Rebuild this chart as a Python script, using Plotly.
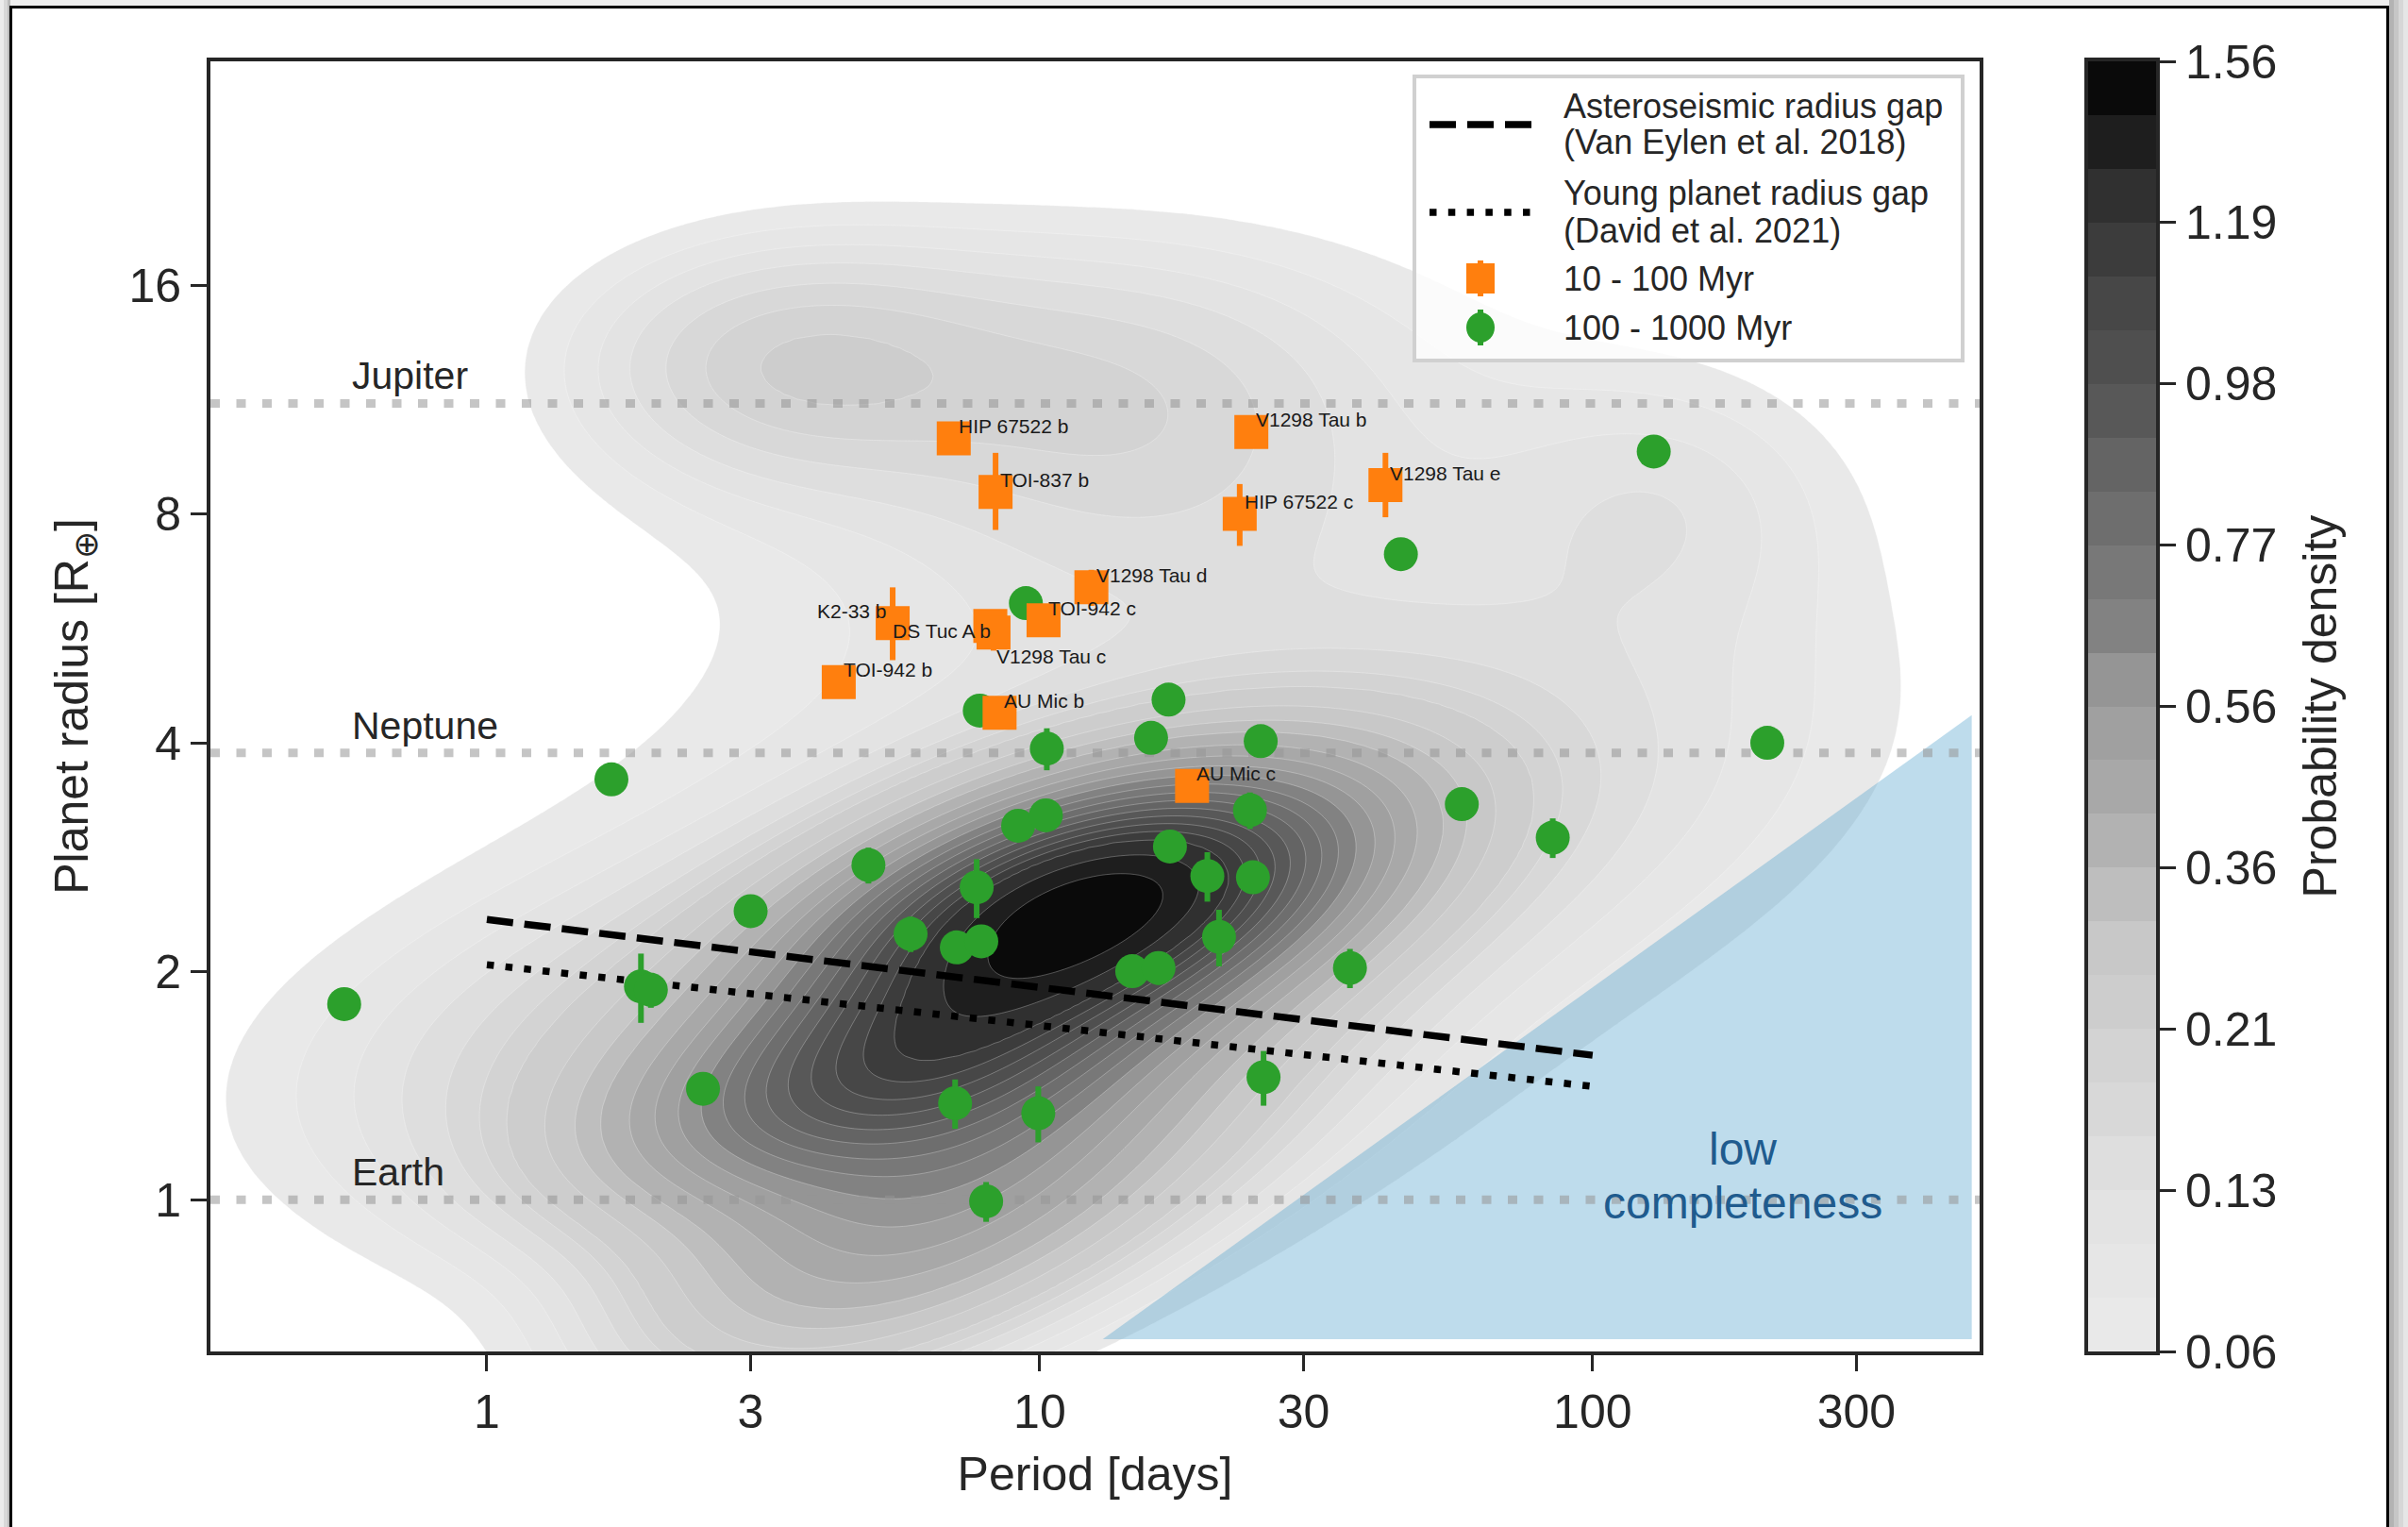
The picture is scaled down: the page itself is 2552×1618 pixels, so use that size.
import numpy as np
import plotly.graph_objects as go

# ------------------------------------------------------------------ data
young_names = ['HIP 67522 b', 'TOI-837 b', 'V1298 Tau b', 'V1298 Tau e', 'HIP 67522 c',
               'V1298 Tau d', 'TOI-942 c', 'K2-33 b', 'DS Tuc A b', 'V1298 Tau c',
               'TOI-942 b', 'AU Mic b', 'AU Mic c']
young_period = [6.99, 8.32, 24.14, 42.2, 23.0, 12.40, 10.16, 5.42, 8.14, 8.25, 4.33, 8.46, 18.86]
young_radius = [10.07, 8.56, 10.27, 8.74, 8.01, 6.41, 5.80, 5.75, 5.70, 5.59, 4.81, 4.38, 3.51]
young_err_up = [0.25, 1.08, 0.30, 0.90, 0.76, 0.35, 0.20, 0.66, 0.10, 0.30, 0.20, 0.20, 0.15]
young_err_lo = [0.25, 0.93, 0.30, 0.81, 0.74, 0.35, 0.20, 0.61, 0.10, 0.30, 0.20, 0.20, 0.15]

inter_period = [0.552, 1.68, 3.00, 1.90, 1.98, 2.46, 4.90, 5.84, 7.08, 7.84, 7.69, 7.03,
                8.00, 9.94, 9.14, 10.26, 9.44, 7.79, 10.3, 14.7, 16.4, 15.9, 17.1, 17.2,
                20.1, 21.1, 24.0, 24.3, 25.1, 25.4, 36.4, 45.0, 58.0, 84.7, 129.0, 207.0]
inter_radius = [1.81, 3.58, 2.40, 1.91, 1.89, 1.40, 2.76, 2.24, 2.15, 2.19, 2.58, 1.34,
                0.995, 1.30, 3.11, 3.21, 6.11, 4.41, 3.93, 2.00, 2.02, 4.06, 4.56, 2.92,
                2.67, 2.22, 3.26, 2.66, 4.02, 1.45, 2.02, 7.09, 3.32, 3.00, 9.68, 4.00]
inter_err = [0.05, 0.10, 0.08, 0.20, 0.10, 0.05, 0.15, 0.12, 0.08, 0.10, 0.23, 0.10,
             0.06, 0.11, 0.10, 0.10, 0.15, 0.15, 0.25, 0.06, 0.10, 0.10, 0.10, 0.08,
             0.20, 0.19, 0.18, 0.08, 0.10, 0.12, 0.12, 0.20, 0.10, 0.18, 0.30, 0.15]

gap_period = [1.0, 100.0]
gap_ve18_radius = [2.34, 1.55]     # Van Eylen et al. 2018
gap_d21_radius = [2.04, 1.41]      # David et al. 2021

ref_names = ['Jupiter', 'Neptune', 'Earth']
ref_radius = [11.2, 3.88, 1.0]

lowcomp_period = [13.0, 485.0, 485.0]
lowcomp_radius = [0.655, 0.655, 4.35]

cbar_ticks = [0.06, 0.13, 0.21, 0.36, 0.56, 0.77, 0.98, 1.19, 1.56]
x_ticks = [1, 3, 10, 30, 100, 300]
y_ticks = [1, 2, 4, 8, 16]

# density model of the field population (in log10 P, log10 R)
#            core  lobe  tail  broad small upper giant warmG topG  longG longM
kde_amp  = [1.32, 0.55, 0.19, 0.10, 0.40, 0.07, 0.15, 0.07, 0.05, 0.06, 0.07]
kde_logP = [1.10, 0.70, 0.57, 1.00, 0.80, 1.30, 0.52, 1.15, 1.05, 2.15, 2.00]
kde_logR = [0.39, 0.16, 0.17, 0.40, -0.02, 0.95, 1.10, 1.02, 1.16, 0.93, 0.55]
kde_sigP = [0.33, 0.30, 0.60, 0.80, 0.35, 0.70, 0.28, 0.28, 0.45, 0.22, 0.50]
kde_sigR = [0.12, 0.10, 0.17, 0.35, 0.16, 0.25, 0.12, 0.13, 0.12, 0.12, 0.22]
kde_rho  = [0.45, 0.50, 0.15, 0.30, 0.60, 0.00, 0.00, 0.00, 0.00, 0.00, 0.30]

band_colors = ['#e9e9e9', '#e6e6e6', '#e3e3e3', '#dedede', '#d8d8d8', '#d3d3d3',
               '#cdcdcd', '#c8c8c8', '#bebebe', '#b2b2b2', '#a8a8a8', '#a0a0a0',
               '#959595', '#828282', '#787878', '#6e6e6e', '#646464', '#585858',
               '#4f4f4f', '#474747', '#3c3c3c', '#303030', '#1e1e1e', '#0a0a0a']

# ------------------------------------------------------------------ layout geometry
W, H = 2552, 1618
ML, MR, MT, MB = 223, 267, 65, 186
PW, PH = W - ML - MR, H - MT - MB
X_MAIN_END = (2098 - ML) / PW
X_CB_START = (2213 - ML) / PW
XR = [-0.5, 2.7]
YR = [-0.2, 1.5]


def px(x):
    return (x - ML) / PW


def py(y):
    return (H - MB - y) / PH


FONT = 'Liberation Sans, Arial, Helvetica, sans-serif'
INK = '#262626'

# ------------------------------------------------------------------ density field
u = np.linspace(XR[0], XR[1], 380)
v = np.linspace(YR[0], YR[1], 280)
U, V = np.meshgrid(u, v)
dens = np.zeros_like(U)
for a, u0, v0, su, sv, r in zip(kde_amp, kde_logP, kde_logR, kde_sigP, kde_sigR, kde_rho):
    du = (U - u0) / su
    dv = (V - v0) / sv
    q = (du ** 2 + dv ** 2 - 2 * r * du * dv) / (1 - r ** 2)
    dens += a * np.exp(-0.5 * q)
zidx = np.interp(dens, [0.0] + cbar_ticks, [-3.0] + [3.0 * i for i in range(len(cbar_ticks))])

n_b = len(band_colors)
contour_scale = [[j / n_b, c] for j, c in enumerate(['#ffffff'] + band_colors)]
bar_scale = []
for j, c in enumerate(band_colors):
    bar_scale.append([j / n_b, c])
    bar_scale.append([(j + 1) / n_b, c])

fig = go.Figure()

fig.add_trace(go.Contour(
    x=10 ** u, y=10 ** v, z=zidx,
    autocontour=False,
    contours=dict(start=0, end=n_b - 1, size=1, coloring='fill', showlines=True),
    line=dict(width=0.8, color='rgba(255,255,255,0.35)'),
    colorscale=contour_scale, showscale=False, hoverinfo='skip'))

# low completeness region
fig.add_trace(go.Scatter(
    x=lowcomp_period, y=lowcomp_radius, mode='lines', fill='toself',
    fillcolor='rgba(92,168,208,0.40)', line=dict(width=0), hoverinfo='skip'))

# Jupiter / Neptune / Earth reference lines
for rr in ref_radius:
    fig.add_trace(go.Scatter(
        x=[10 ** XR[0], 10 ** XR[1]], y=[rr, rr], mode='lines',
        line=dict(color='rgba(150,150,150,0.55)', width=9, dash='10px,17.5px'),
        hoverinfo='skip'))

# radius gap lines
fig.add_trace(go.Scatter(
    x=gap_period, y=gap_ve18_radius, mode='lines', name='Asteroseismic radius gap',
    line=dict(color='black', width=7.5, dash='28px,12px')))
fig.add_trace(go.Scatter(
    x=gap_period, y=gap_d21_radius, mode='lines', name='Young planet radius gap',
    line=dict(color='black', width=7.5, dash='7.5px,12.3px')))

GREEN = '#2ca02c'
ORANGE = '#ff7f0e'
fig.add_trace(go.Scatter(
    x=inter_period, y=inter_radius, mode='markers', name='100 - 1000 Myr',
    marker=dict(symbol='circle', size=36, color=GREEN, line=dict(width=0)),
    error_y=dict(type='data', array=inter_err, color=GREEN, thickness=6, width=0)))
fig.add_trace(go.Scatter(
    x=young_period, y=young_radius, mode='markers', name='10 - 100 Myr',
    marker=dict(symbol='square', size=36, color=ORANGE, line=dict(width=0)),
    error_y=dict(type='data', array=young_err_up, arrayminus=young_err_lo,
                 color=ORANGE, thickness=6, width=0)))

# colorbar (own axes)
fig.add_trace(go.Heatmap(
    x=[0], y=[j + 0.5 for j in range(n_b)], z=[[j + 0.5] for j in range(n_b)],
    colorscale=bar_scale, zmin=0, zmax=n_b, showscale=False,
    xaxis='x2', yaxis='y2', hoverinfo='skip'))

annotations = []
# planet labels
label_shift = {
    'K2-33 b': ('right', -4, 13),
    'DS Tuc A b': ('right', 2, -5),
    'V1298 Tau c': ('left', 1, -25),
}
for nm, p, r in zip(young_names, young_period, young_radius):
    anc, xs, ys = label_shift.get(nm, ('left', 3, 13))
    annotations.append(dict(
        x=np.log10(p), y=np.log10(r), xref='x', yref='y', text=nm, showarrow=False,
        xanchor=anc, yanchor='middle', xshift=xs, yshift=ys,
        font=dict(family=FONT, size=21, color='#1a1a1a')))

for nm, rr in zip(ref_names, ref_radius):
    annotations.append(dict(
        x=np.log10(0.566), y=np.log10(rr), xref='x', yref='y', text=nm, showarrow=False,
        xanchor='left', yanchor='middle', yshift=29,
        font=dict(family=FONT, size=41, color=INK)))

for txt, rr in [('low', 1.166), ('completeness', 0.99)]:
    annotations.append(dict(
        x=np.log10(187), y=np.log10(rr), xref='x', yref='y', text=txt, showarrow=False,
        xanchor='center', yanchor='middle',
        font=dict(family=FONT, size=48, color='#1f5b8e')))

# manual legend
legend_rows = [(112, 'Asteroseismic radius gap'), (151, '(Van Eylen et al. 2018)'),
               (205, 'Young planet radius gap'), (244, '(David et al. 2021)'),
               (295, '10 - 100 Myr'), (347, '100 - 1000 Myr')]
for yy, txt in legend_rows:
    annotations.append(dict(
        x=px(1655), y=py(yy), xref='paper', yref='paper', text=txt, showarrow=False,
        xanchor='left', yanchor='middle', font=dict(family=FONT, size=36, color=INK)))

shapes = []
shapes.append(dict(type='rect', xref='paper', yref='paper',
                   x0=px(1499), x1=px(2080), y0=py(382), y1=py(81),
                   fillcolor='rgba(255,255,255,0.8)', line=dict(color='#d0d0d0', width=4),
                   layer='above'))
shapes.append(dict(type='line', xref='paper', yref='paper',
                   x0=px(1515), x1=px(1624), y0=py(132), y1=py(132),
                   line=dict(color='black', width=7.5, dash='28px,12px'), layer='above'))
shapes.append(dict(type='line', xref='paper', yref='paper',
                   x0=px(1515), x1=px(1624), y0=py(225), y1=py(225),
                   line=dict(color='black', width=7.5, dash='7.5px,12.3px'), layer='above'))
# legend markers (with tiny error bars)
for yy, col, kind in [(295, ORANGE, 'rect'), (347, GREEN, 'circle')]:
    shapes.append(dict(type='rect', xref='paper', yref='paper', xsizemode='pixel',
                       ysizemode='pixel', xanchor=px(1569), yanchor=py(yy),
                       x0=-3, x1=3, y0=-19, y1=19, fillcolor=col, line=dict(width=0),
                       layer='above'))
    shapes.append(dict(type=kind, xref='paper', yref='paper', xsizemode='pixel',
                       ysizemode='pixel', xanchor=px(1569), yanchor=py(yy),
                       x0=-15, x1=15, y0=-16, y1=16, fillcolor=col, line=dict(width=0),
                       layer='above'))

# page frame with shadow
for x0, x1, col in [(0, 4, '#ececec'), (4, 8, '#d8d8d8'), (8, 11, '#bdbdbd'),
                    (2532, 2537, '#b3b3b3'), (2537, 2542, '#c6c6c6'),
                    (2542, 2547, '#d7d7d7'), (2547, 2552, '#e6e6e6')]:
    shapes.append(dict(type='rect', xref='paper', yref='paper',
                       x0=px(x0), x1=px(x1), y0=py(H), y1=py(0),
                       fillcolor=col, line=dict(width=0), layer='above'))
shapes.append(dict(type='rect', xref='paper', yref='paper',
                   x0=px(11), x1=px(2532), y0=py(6), y1=py(0),
                   fillcolor='#efefef', line=dict(width=0), layer='above'))
shapes.append(dict(type='rect', xref='paper', yref='paper',
                   x0=px(11.5), x1=px(2530.5), y0=py(H + 20), y1=py(7.5),
                   line=dict(color='black', width=3), fillcolor='rgba(0,0,0,0)',
                   layer='above'))

axis_common = dict(showline=True, linewidth=4, linecolor=INK, mirror=True,
                   showgrid=False, zeroline=False, ticks='outside', ticklen=17,
                   tickwidth=3, tickcolor=INK, automargin=False,
                   tickfont=dict(family=FONT, size=50, color=INK))

fig.update_layout(
    width=W, height=H, margin=dict(l=ML, r=MR, t=MT, b=MB),
    paper_bgcolor='white', plot_bgcolor='white', showlegend=False,
    font=dict(family=FONT, color=INK),
    xaxis=dict(type='log', range=XR, domain=[0, X_MAIN_END], tickvals=x_ticks,
               ticktext=[str(t) for t in x_ticks],
               title=dict(text='Period [days]', font=dict(family=FONT, size=50, color=INK),
                          standoff=22),
               **axis_common),
    yaxis=dict(type='log', range=YR, domain=[0, 1], tickvals=y_ticks,
               ticktext=[str(t) for t in y_ticks],
               title=dict(text='Planet radius [R<sub>⊕</sub>]',
                          font=dict(family=FONT, size=50, color=INK), standoff=28),
               **axis_common),
    xaxis2=dict(domain=[X_CB_START, 1], anchor='y2', range=[-0.5, 0.5],
                showticklabels=False, ticks='', showline=True, linewidth=4,
                linecolor=INK, mirror=True, showgrid=False, zeroline=False),
    yaxis2=dict(domain=[0, 1], anchor='x2', range=[0, n_b], side='right',
                tickvals=[3 * i for i in range(len(cbar_ticks))],
                ticktext=['%.2f' % t for t in cbar_ticks],
                title=dict(text='Probability density',
                           font=dict(family=FONT, size=50, color=INK), standoff=30),
                **axis_common),
    annotations=annotations, shapes=shapes,
)

fig.write_html('out.html')
